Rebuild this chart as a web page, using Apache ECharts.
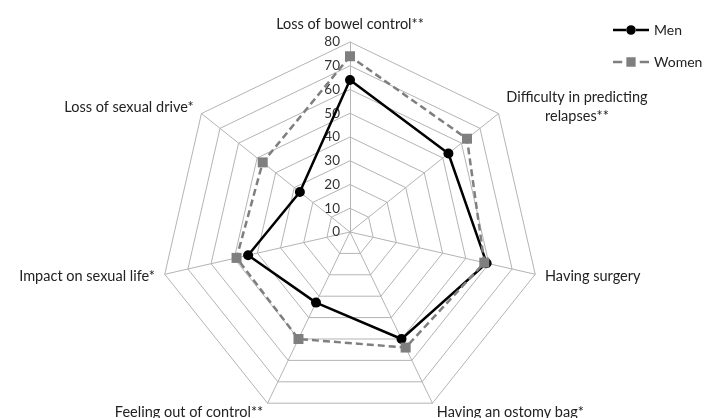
<!DOCTYPE html>
<html>
<head>
<meta charset="utf-8">
<script src="https://cdn.jsdelivr.net/npm/echarts@6/dist/echarts.min.js"></script>
<style>
html,body{margin:0;padding:0;background:#fff;}
#chart{width:704px;height:418px;}
</style>
</head>
<body>
<div id="chart"></div>
<script>
// Categories listed clockwise from the top, as in the reference
const categories = [
  'Loss of bowel control**',
  'Difficulty in predicting\nrelapses**',
  'Having surgery',
  'Having an ostomy bag*',
  'Feeling out of control**',
  'Impact on sexual life*',
  'Loss of sexual drive*'
];
const menValues = [64, 53, 59, 50, 33, 44, 27];
const womenValues = [74, 63, 58, 54, 50, 49, 47];
const seriesNames = ['Men', 'Women'];
const axisMax = 80;

// ECharts radar runs counter-clockwise; reorder so the plot runs clockwise
const n = categories.length;
const order = categories.map(function (_, i) { return (n - i) % n; });
const pick = function (arr) { return order.map(function (k) { return arr[k]; }); };

const FONT = 'Lato';
const menIcon = 'path://M0,3.8H13V6.2H0Z M23,3.8H36V6.2H23Z M18,0.2A4.8,4.8 0 1,1 17.99,0.2Z';
const womenIcon = 'path://M0,3.8H9V6.2H0Z M13,0.5H22V9.5H13Z M26,3.8H35V6.2H26Z';

const chart = echarts.init(document.getElementById('chart'));
chart.setOption({
  animation: false,
  backgroundColor: '#fff',
  legend: {
    data: [
      {name: seriesNames[0], icon: menIcon},
      {name: seriesNames[1], icon: womenIcon}
    ],
    orient: 'vertical',
    left: 608,
    top: 18,
    itemGap: 18,
    itemWidth: 36,
    itemHeight: 10,
    textStyle: {fontFamily: FONT, fontSize: 14, color: '#222'}
  },
  radar: {
    center: [350, 232],
    radius: 190,
    startAngle: 90,
    splitNumber: 8,
    shape: 'polygon',
    nameGap: 10,
    axisName: {
      color: '#222',
      fontFamily: FONT,
      fontSize: 14.5,
      formatter: function (name) {
        if (name.indexOf('\n') >= 0) {
          return name.split('\n').map(function (s) { return '{c|' + s + '}'; }).join('\n');
        }
        return name;
      },
      rich: {c: {align: 'center', fontFamily: FONT, fontSize: 14.5, color: '#222', lineHeight: 19}}
    },
    indicator: pick(categories).map(function (c, i) {
      const ind = {name: c, min: 0, max: axisMax};
      if (i === 0) ind.axisLabel = {show: true};
      return ind;
    }),
    axisLabel: {show: false, color: '#333', fontFamily: FONT, fontSize: 13.5, margin: 10},
    axisLine: {lineStyle: {color: '#b4b4b4', width: 1}},
    splitLine: {lineStyle: {color: '#b4b4b4', width: 1}},
    splitArea: {show: false}
  },
  series: [{
    type: 'radar',
    data: [
      {
        name: seriesNames[0],
        value: pick(menValues),
        symbol: 'circle',
        symbolSize: 10,
        itemStyle: {color: '#000'},
        lineStyle: {color: '#000', width: 2.5}
      },
      {
        name: seriesNames[1],
        value: pick(womenValues),
        symbol: 'rect',
        symbolSize: 10,
        itemStyle: {color: '#7f7f7f'},
        lineStyle: {color: '#7f7f7f', width: 2.5, type: [7, 4]}
      }
    ],
    z: 3
  }]
});
</script>
</body>
</html>
